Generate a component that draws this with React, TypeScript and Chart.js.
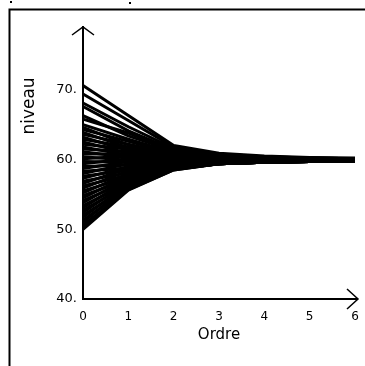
import React, { useEffect, useRef } from "react";
import { Chart, registerables } from "chart.js";

Chart.register(...registerables);

const ordre = ["0", "1", "2", "3", "4", "5", "6"];
const yTicks = [40, 50, 60, 70];

const l01 = [70.6, 66.3, 62.0, 60.9, 60.5, 60.3, 60.2];
const l02 = [69.4, 65.6, 61.8, 60.8, 60.4, 60.2, 60.1];
const l03 = [68.1, 64.7, 61.6, 60.7, 60.4, 60.2, 60.1];
const l04 = [67.6, 64.1, 61.4, 60.7, 60.3, 60.2, 60.1];
const l05 = [66.3, 63.4, 61.2, 60.6, 60.3, 60.1, 60.0];
const l06 = [65.8, 63.8, 61.3, 60.6, 60.3, 60.1, 60.0];
const l07 = [65.0, 62.9, 61.0, 60.5, 60.2, 60.1, 60.0];
const l08 = [64.6, 62.1, 60.8, 60.4, 60.2, 60.1, 60.0];
const l09 = [64.3, 62.6, 60.9, 60.4, 60.2, 60.1, 60.0];
const l10 = [63.9, 61.7, 60.7, 60.3, 60.2, 60.1, 60.0];
const l11 = [63.6, 62.2, 60.8, 60.3, 60.1, 60.0, 60.0];
const l12 = [63.2, 61.3, 60.6, 60.3, 60.1, 60.0, 60.0];
const l13 = [62.9, 61.8, 60.7, 60.2, 60.1, 60.0, 60.0];
const l14 = [62.5, 60.9, 60.4, 60.2, 60.1, 60.0, 59.9];
const l15 = [62.2, 61.5, 60.6, 60.2, 60.0, 60.0, 59.9];
const l16 = [61.8, 60.6, 60.3, 60.1, 60.0, 60.0, 59.9];
const l17 = [61.5, 61.1, 60.5, 60.1, 60.0, 59.9, 59.9];
const l18 = [61.1, 60.3, 60.2, 60.1, 60.0, 59.9, 59.9];
const l19 = [60.8, 60.8, 60.3, 60.0, 60.0, 59.9, 59.9];
const l20 = [60.4, 59.9, 60.0, 60.0, 59.9, 59.9, 59.9];
const l21 = [60.1, 60.5, 60.2, 60.0, 59.9, 59.9, 59.9];
const l22 = [59.7, 59.6, 59.9, 59.9, 59.9, 59.9, 59.9];
const l23 = [59.4, 60.1, 60.0, 59.9, 59.9, 59.9, 59.9];
const l24 = [59.0, 59.2, 59.8, 59.8, 59.8, 59.9, 59.9];
const l25 = [58.7, 59.7, 59.9, 59.9, 59.8, 59.8, 59.9];
const l26 = [58.3, 58.8, 59.6, 59.8, 59.8, 59.8, 59.8];
const l27 = [58.0, 59.4, 59.7, 59.8, 59.8, 59.8, 59.8];
const l28 = [57.6, 58.5, 59.4, 59.7, 59.8, 59.8, 59.8];
const l29 = [57.3, 59.0, 59.6, 59.7, 59.8, 59.8, 59.8];
const l30 = [56.9, 58.1, 59.3, 59.6, 59.7, 59.8, 59.8];
const l31 = [56.6, 58.7, 59.5, 59.7, 59.8, 59.8, 59.8];
const l32 = [56.2, 57.8, 59.2, 59.6, 59.7, 59.8, 59.8];
const l33 = [55.9, 58.4, 59.4, 59.6, 59.7, 59.8, 59.8];
const l34 = [55.5, 57.5, 59.1, 59.5, 59.7, 59.7, 59.8];
const l35 = [55.2, 58.0, 59.3, 59.6, 59.7, 59.7, 59.8];
const l36 = [54.8, 57.2, 59.0, 59.5, 59.7, 59.7, 59.8];
const l37 = [54.5, 57.7, 59.2, 59.5, 59.6, 59.7, 59.8];
const l38 = [54.1, 56.9, 58.9, 59.4, 59.6, 59.7, 59.8];
const l39 = [53.8, 57.4, 59.0, 59.5, 59.6, 59.7, 59.8];
const l40 = [53.4, 56.6, 58.8, 59.4, 59.6, 59.7, 59.8];
const l41 = [53.1, 57.1, 58.9, 59.4, 59.6, 59.7, 59.8];
const l42 = [52.7, 56.4, 58.7, 59.4, 59.6, 59.7, 59.8];
const l43 = [52.4, 56.8, 58.8, 59.4, 59.6, 59.7, 59.8];
const l44 = [52.0, 56.1, 58.6, 59.4, 59.6, 59.7, 59.8];
const l45 = [51.7, 56.5, 58.7, 59.4, 59.6, 59.7, 59.8];
const l46 = [51.3, 55.9, 58.6, 59.4, 59.6, 59.7, 59.8];
const l47 = [51.0, 56.3, 58.7, 59.4, 59.6, 59.7, 59.8];
const l48 = [50.6, 55.7, 58.5, 59.4, 59.6, 59.7, 59.8];
const l49 = [50.3, 56.0, 58.6, 59.4, 59.6, 59.7, 59.8];
const l50 = [50.0, 55.6, 58.5, 59.4, 59.6, 59.7, 59.8];

const allSeries = [
  l01, l02, l03, l04, l05, l06, l07, l08, l09, l10,
  l11, l12, l13, l14, l15, l16, l17, l18, l19, l20,
  l21, l22, l23, l24, l25, l26, l27, l28, l29, l30,
  l31, l32, l33, l34, l35, l36, l37, l38, l39, l40,
  l41, l42, l43, l44, l45, l46, l47, l48, l49, l50,
];

const yTitle = "niveau";
const xTitle = "Ordre";

const decorPlugin = {
  id: "decor",
  afterDraw(chart: any) {
    const { ctx, chartArea } = chart;
    const { left, top, right, bottom } = chartArea;
    ctx.save();
    ctx.strokeStyle = "#000";
    ctx.fillStyle = "#000";
    ctx.lineWidth = 1.5;
    ctx.beginPath();
    ctx.moveTo(left - 11, top + 8);
    ctx.lineTo(left, top);
    ctx.lineTo(left + 11, top + 8);
    ctx.stroke();
    ctx.lineWidth = 2;
    ctx.beginPath();
    ctx.moveTo(right, bottom);
    ctx.lineTo(right + 3, bottom);
    ctx.stroke();
    ctx.lineWidth = 1.5;
    ctx.beginPath();
    ctx.moveTo(right - 8, bottom - 10);
    ctx.lineTo(right + 3, bottom);
    ctx.lineTo(right - 8, bottom + 10);
    ctx.stroke();
    ctx.lineWidth = 2;
    ctx.beginPath();
    ctx.moveTo(9.5, 366);
    ctx.lineTo(9.5, 9.5);
    ctx.lineTo(365, 9.5);
    ctx.stroke();
    ctx.fillRect(10, 1, 2, 2);
    ctx.fillRect(129, 2, 2, 2);
    ctx.font = "17px 'DejaVu Sans'";
    ctx.textAlign = "center";
    ctx.textBaseline = "middle";
    ctx.translate(30, 106);
    ctx.rotate(-Math.PI / 2);
    ctx.fillText(yTitle, 0, 0);
    ctx.restore();
  },
};

export default function App() {
  const ref = useRef<HTMLCanvasElement | null>(null);
  useEffect(() => {
    if (!ref.current) return;
    const chart = new Chart(ref.current, {
      type: "line",
      data: {
        labels: ordre,
        datasets: allSeries.map((s, i) => ({
          label: "s" + (i + 1),
          data: s,
          borderColor: "#000",
          borderWidth: 3,
          pointRadius: 0,
          tension: 0,
          fill: false,
        })),
      },
      options: {
        animation: false,
        responsive: false,
        events: [],
        layout: { padding: { left: 0, top: 27, right: 10, bottom: 0 } },
        plugins: { legend: { display: false }, tooltip: { enabled: false } },
        scales: {
          x: {
            type: "category",
            offset: false,
            grid: { display: false, drawTicks: false },
            border: { display: true, color: "#000", width: 2 },
            ticks: {
              color: "#000",
              padding: 11,
              maxRotation: 0,
              font: { family: "'DejaVu Sans'", size: 12 },
            },
            title: {
              display: true,
              text: xTitle,
              color: "#000",
              font: { family: "'DejaVu Sans'", size: 15 },
              padding: { top: 0, bottom: 22 },
            },
            afterFit: (scale: any) => {
              scale.height = 67;
              scale.paddingLeft = 0;
              scale.paddingRight = 0;
            },
          },
          y: {
            type: "linear",
            min: 40,
            max: 79,
            grid: { display: false, drawTicks: false },
            border: { display: true, color: "#000", width: 2 },
            afterBuildTicks: (scale: any) => {
              scale.ticks = yTicks.map((v) => ({ value: v }));
            },
            ticks: {
              color: "#000",
              padding: 6,
              font: { family: "'DejaVu Sans'", size: 13 },
              callback: (v: any) => v + ".",
            },
            afterFit: (scale: any) => {
              scale.width = 83;
            },
          },
        },
      },
      plugins: [decorPlugin],
    });
    return () => chart.destroy();
  }, []);
  return (
    <div style={{ position: "fixed", left: 0, top: 0, width: 365, height: 366, background: "#fff" }}>
      <canvas ref={ref} width={365} height={366} />
    </div>
  );
}
